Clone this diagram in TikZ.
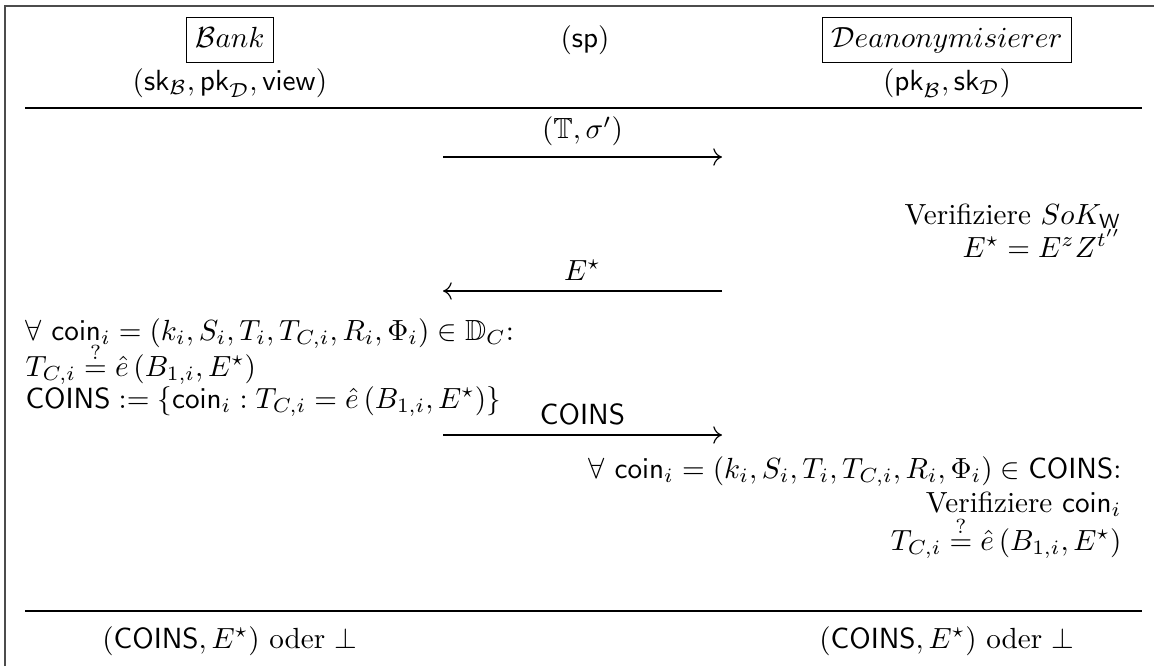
\documentclass[tikz,border=0pt]{standalone}
\usepackage{amsmath,amssymb}
\usetikzlibrary{arrows.meta}
\tikzset{
  party/.style={draw, line width=0.4pt, inner sep=3pt, text height=7.3pt, text depth=2pt, anchor=center},
  txt/.style={inner sep=0pt, anchor=base},
  rtxt/.style={inner sep=0pt, anchor=base east},
  ltxt/.style={inner sep=0pt, anchor=base west},
  msg/.style={line width=0.4pt, -{To[length=3pt,width=6pt]}},
  lbl/.style={inner sep=0pt, above=3.5pt},
  rule/.style={line width=0.7pt},
  frame/.style={line width=0.5pt, black!70}
}
\begin{document}
\begin{tikzpicture}[x=0.343pt, y=-0.343pt]
\useasboundingbox (0,0) rectangle (1154,666);
% frame
\coordinate (f1) at (5,666);
\coordinate (f2) at (5,6);
\coordinate (f3) at (1154,6);
\draw[frame] (f1) -- (f2) -- (f3);
% header
\node[party] (bank) at (230,40) {$\mathcal{B}ank$};
\node[txt] (bankin) at (230,90) {$(\mathsf{sk}_{\mathcal{B}},\mathsf{pk}_{\mathcal{D}},\mathsf{view})$};
\node[txt] (sp) at (585,47) {$(\mathsf{sp})$};
\node[party] (dean) at (947,40) {$\mathcal{D}eanonymisierer$};
\node[txt] (deanin) at (947,90) {$(\mathsf{pk}_{\mathcal{B}},\mathsf{sk}_{\mathcal{D}})$};
\coordinate (r1a) at (25,108);
\coordinate (r1b) at (1142,108);
\draw[rule] (r1a) -- (r1b);
% message 1
\coordinate (m1s) at (443,157);
\coordinate (m1e) at (722,157);
\draw[msg] (m1s) -- node[lbl] (m1l) {$(\mathbb{T},\sigma')$} (m1e);
\node[rtxt] (v1) at (1122,224) {Verifiziere $SoK_{\mathsf{W}}$};
\node[rtxt] (v2) at (1122,257) {$E^\star = E^{z}Z^{t''}$};
% message 2
\coordinate (m2s) at (722,291);
\coordinate (m2e) at (443,291);
\draw[msg] (m2s) -- node[lbl] (m2l) {$E^\star$} (m2e);
\node[ltxt] (b1) at (25,340) {$\forall\ \mathsf{coin}_i = (k_i,S_i,T_i,T_{C,i},R_i,\Phi_i)\in\mathbb{D}_C$:};
\node[ltxt] (b2) at (25,376) {$T_{C,i}\stackrel{?}{=}\hat{e}\left(B_{1,i},E^\star\right)$};
\node[ltxt] (b3) at (25,408) {$\mathsf{COINS} := \{\mathsf{coin}_i : T_{C,i} = \hat{e}\left(B_{1,i},E^\star\right)\}$};
% message 3
\coordinate (m3s) at (443,435);
\coordinate (m3e) at (722,435);
\draw[msg] (m3s) -- node[lbl] (m3l) {$\mathsf{COINS}$} (m3e);
\node[rtxt] (d1) at (1122,478) {$\forall\ \mathsf{coin}_i = (k_i,S_i,T_i,T_{C,i},R_i,\Phi_i)\in\mathsf{COINS}$:};
\node[rtxt] (d2) at (1122,512) {Verifiziere $\mathsf{coin}_i$};
\node[rtxt] (d3) at (1122,550) {$T_{C,i}\stackrel{?}{=}\hat{e}\left(B_{1,i},E^\star\right)$};
\coordinate (r2a) at (25,611);
\coordinate (r2b) at (1142,611);
\draw[rule] (r2a) -- (r2b);
% outputs
\node[txt] (o1) at (230,648) {$(\mathsf{COINS},E^\star)$ oder $\perp$};
\node[txt] (o2) at (947,648) {$(\mathsf{COINS},E^\star)$ oder $\perp$};
\end{tikzpicture}
\end{document}
